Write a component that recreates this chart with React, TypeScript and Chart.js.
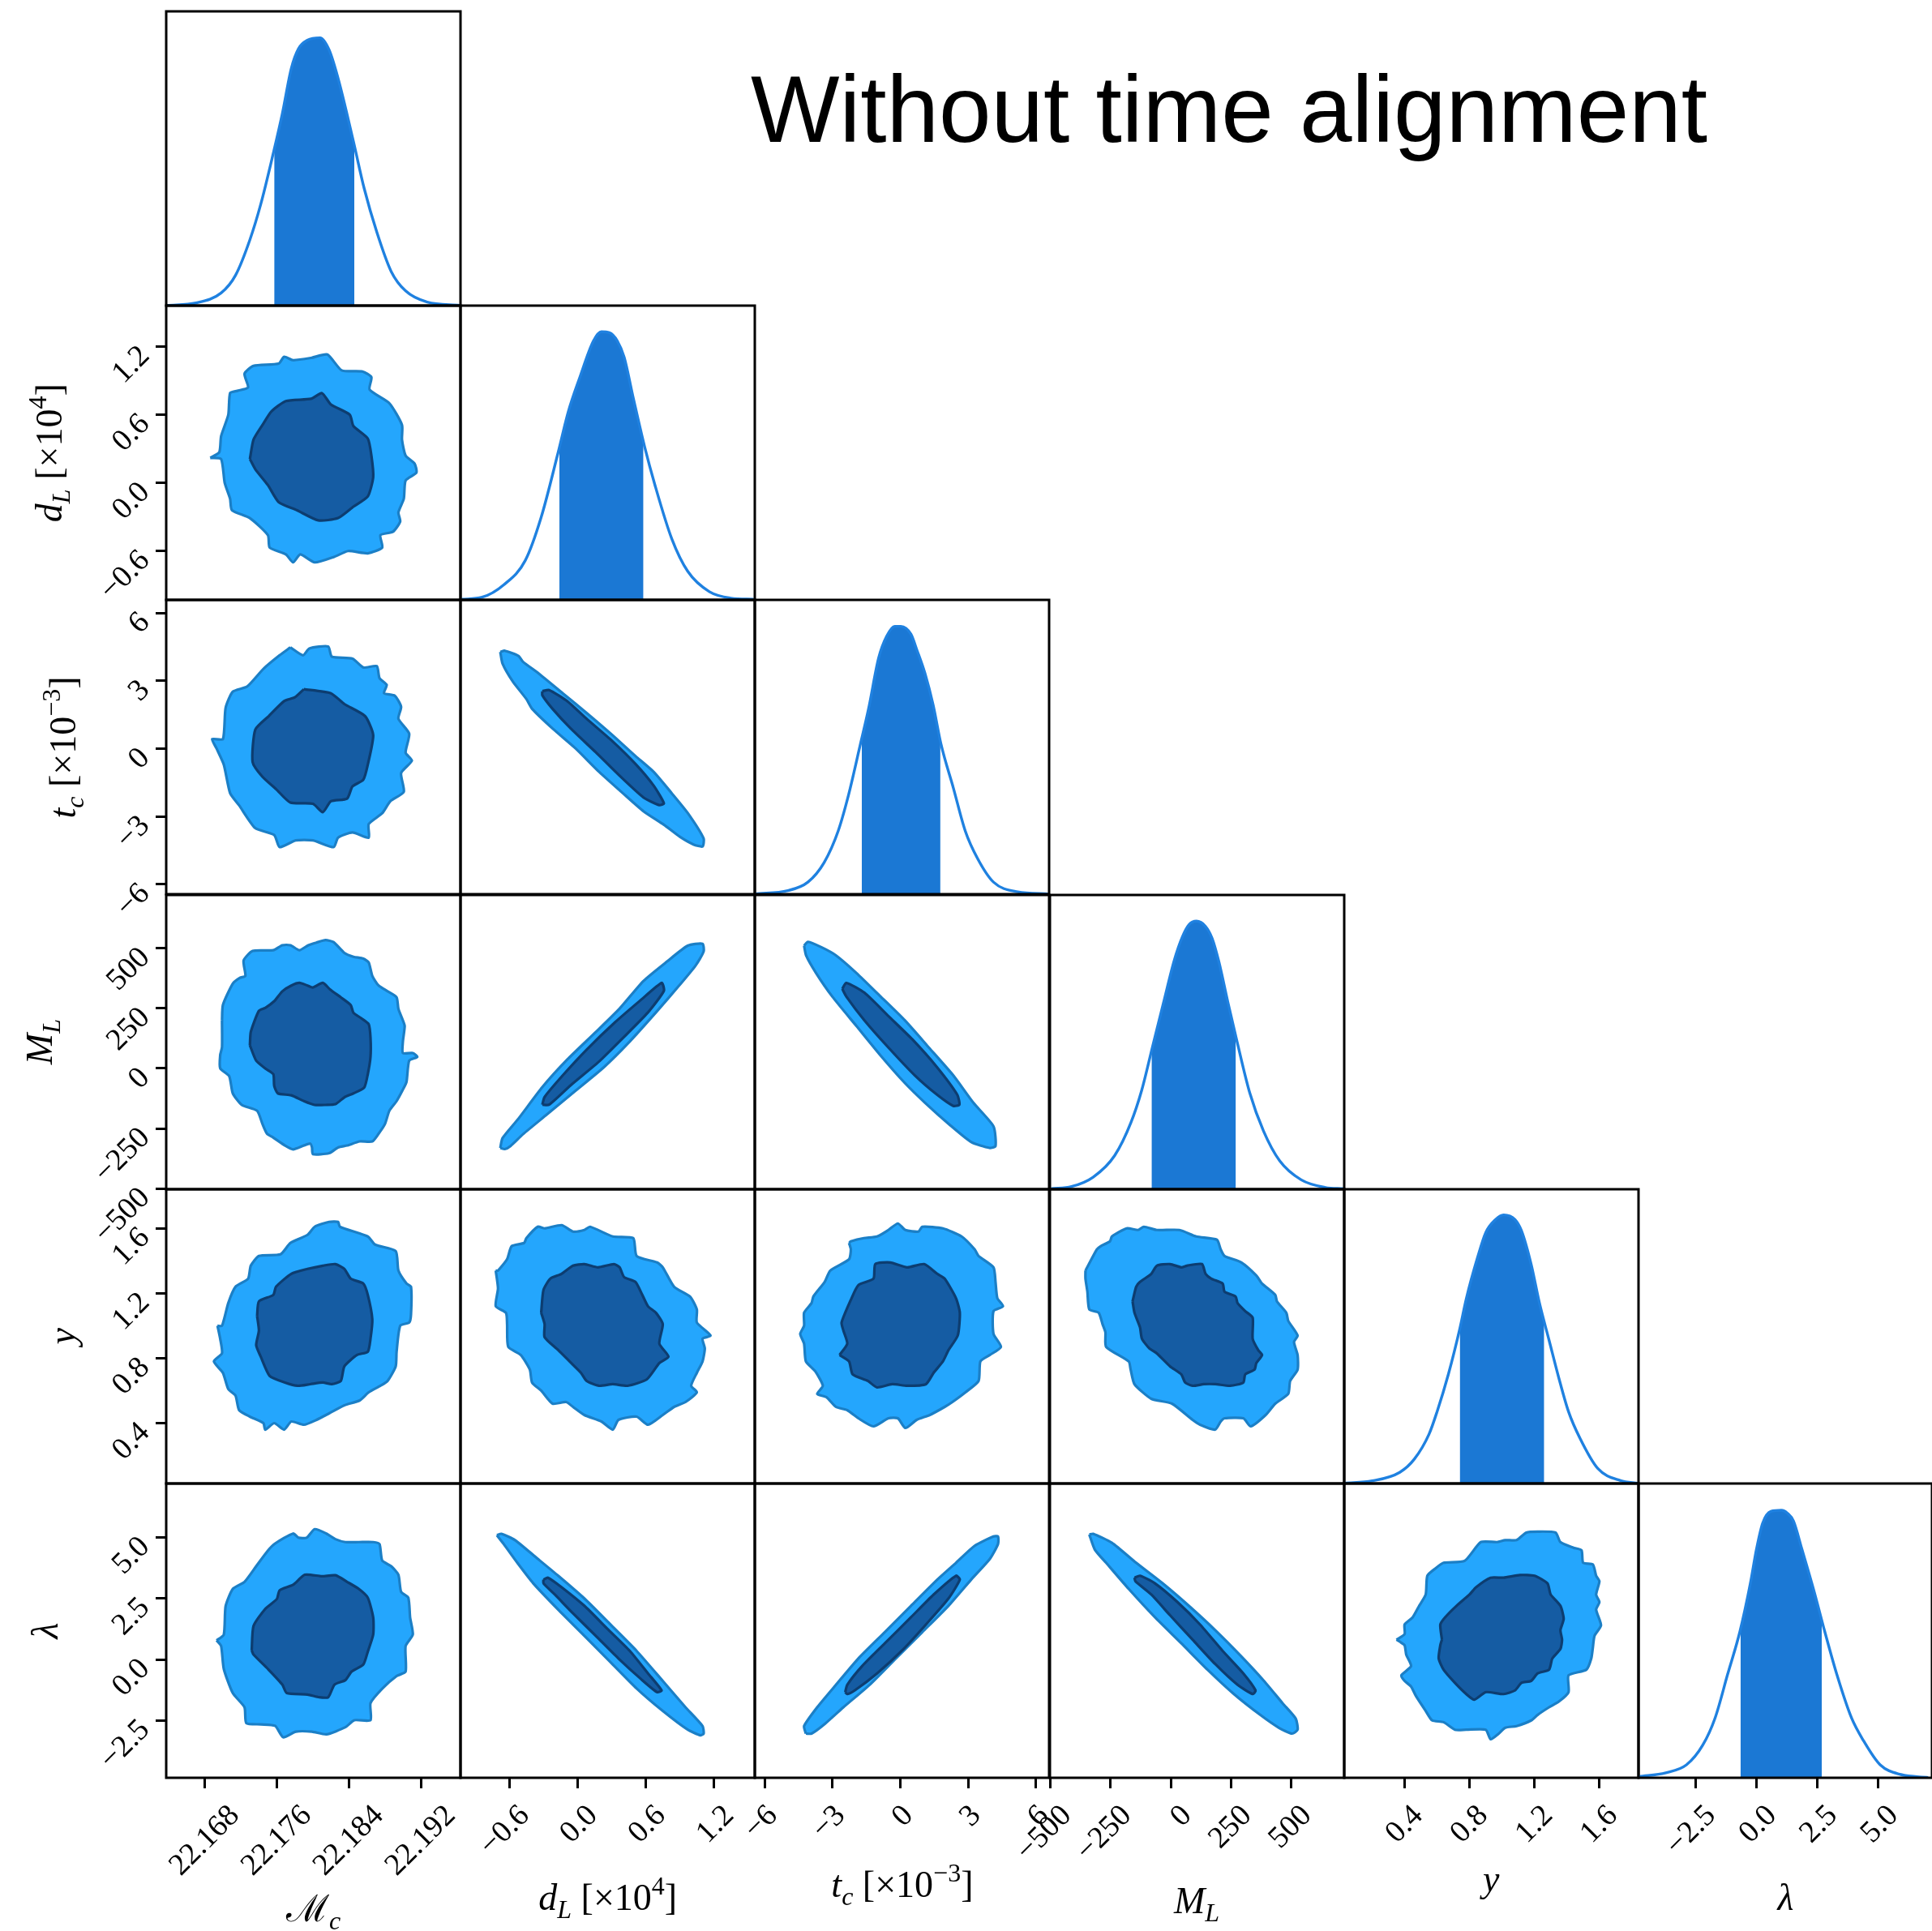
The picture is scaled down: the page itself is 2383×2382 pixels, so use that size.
import React, { useEffect, useRef } from 'react';
import { Chart, registerables } from 'chart.js';

Chart.register(...registerables);

type Pt = [number, number];

// ---------------- axes ----------------
const MC_RANGE: Pt = [22.1637, 22.1964];
const DL_RANGE: Pt = [-1.03, 1.56];
const TC_RANGE: Pt = [-6.44, 6.58];
const ML_RANGE: Pt = [-503, 722];
const Y_RANGE: Pt = [0.028, 1.841];
const LAM_RANGE: Pt = [-4.85, 7.21];

const MC_TICKS = [22.168, 22.176, 22.184, 22.192];
const MC_TICK_LABELS = ['22.168', '22.176', '22.184', '22.192'];
const DL_TICKS = [-0.6, 0, 0.6, 1.2];
const DL_TICK_LABELS = ['\u22120.6', '0.0', '0.6', '1.2'];
const TC_TICKS = [-6, -3, 0, 3, 6];
const TC_TICK_LABELS = ['\u22126', '\u22123', '0', '3', '6'];
const ML_TICKS = [-500, -250, 0, 250, 500];
const ML_TICK_LABELS = ['\u2212500', '\u2212250', '0', '250', '500'];
const Y_TICKS = [0.4, 0.8, 1.2, 1.6];
const Y_TICK_LABELS = ['0.4', '0.8', '1.2', '1.6'];
const LAM_TICKS = [-2.5, 0, 2.5, 5];
const LAM_TICK_LABELS = ['\u22122.5', '0.0', '2.5', '5.0'];

const MAIN_TITLE = 'Without time alignment';

// ---------------- 1D marginals (relative density) ----------------
const MC_PDF: Pt[] = [[22.1638,0.001],[22.1670,0.009],[22.1698,0.043],[22.1714,0.103],[22.1730,0.224],[22.1742,0.344],[22.1756,0.518],[22.1766,0.652],[22.1776,0.806],[22.1784,0.873],[22.1794,0.902],[22.1808,0.910],[22.1818,0.869],[22.1828,0.772],[22.1845,0.558],[22.1857,0.398],[22.1871,0.25],[22.1887,0.116],[22.1903,0.05],[22.1927,0.012],[22.1963,0.001]];
const MC_BAND: Pt[] = [[22.1757,0.525],[22.1766,0.652],[22.1776,0.806],[22.1784,0.873],[22.1794,0.902],[22.1808,0.910],[22.1818,0.869],[22.1828,0.772],[22.1846,0.545]];

const DL_PDF: Pt[] = [[-1.02,0.002],[-0.84,0.009],[-0.65,0.051],[-0.46,0.134],[-0.32,0.281],[-0.17,0.502],[-0.08,0.641],[0.02,0.756],[0.14,0.88],[0.21,0.911],[0.28,0.908],[0.35,0.88],[0.41,0.825],[0.49,0.687],[0.59,0.521],[0.68,0.392],[0.83,0.207],[0.97,0.097],[1.16,0.028],[1.35,0.006],[1.55,0.002]];
const DL_BAND: Pt[] = [[-0.16,0.51],[-0.08,0.641],[0.02,0.756],[0.14,0.88],[0.21,0.911],[0.28,0.908],[0.35,0.88],[0.41,0.825],[0.49,0.687],[0.58,0.53]];

const TC_PDF: Pt[] = [[-6.40,0.001],[-4.98,0.012],[-4.09,0.041],[-3.37,0.108],[-2.75,0.215],[-2.30,0.335],[-1.77,0.509],[-1.41,0.629],[-0.96,0.803],[-0.61,0.876],[-0.25,0.91],[0.02,0.91],[0.47,0.883],[0.73,0.83],[1.09,0.75],[1.45,0.643],[1.80,0.509],[2.34,0.362],[2.87,0.215],[3.41,0.122],[4.12,0.041],[5.19,0.008],[6.53,0.001]];
const TC_BAND: Pt[] = [[-1.71,0.52],[-1.41,0.629],[-0.96,0.803],[-0.61,0.876],[-0.25,0.91],[0.02,0.91],[0.47,0.883],[0.73,0.83],[1.09,0.75],[1.45,0.643],[1.77,0.52]];

const ML_PDF: Pt[] = [[-497,0.002],[-413,0.009],[-323,0.041],[-233,0.115],[-166,0.226],[-121,0.336],[-76,0.484],[-31,0.631],[15,0.779],[48,0.857],[76,0.899],[107,0.911],[144,0.894],[172,0.853],[200,0.774],[239,0.631],[273,0.512],[329,0.327],[386,0.198],[453,0.097],[543,0.032],[644,0.006],[718,0.002]];
const ML_BAND: Pt[] = [[-80,0.47],[-76,0.484],[-31,0.631],[15,0.779],[48,0.857],[76,0.899],[107,0.911],[144,0.894],[172,0.853],[200,0.774],[239,0.631],[271,0.515]];

const Y_PDF: Pt[] = [[0.03,0.001],[0.20,0.009],[0.37,0.038],[0.46,0.083],[0.55,0.167],[0.60,0.244],[0.67,0.372],[0.74,0.526],[0.78,0.628],[0.85,0.769],[0.90,0.853],[0.96,0.897],[1.01,0.913],[1.08,0.897],[1.12,0.859],[1.18,0.744],[1.23,0.615],[1.29,0.487],[1.35,0.359],[1.41,0.244],[1.48,0.154],[1.59,0.051],[1.73,0.010],[1.84,0.001]];
const Y_BAND: Pt[] = [[0.74,0.526],[0.78,0.628],[0.85,0.769],[0.90,0.853],[0.96,0.897],[1.01,0.913],[1.08,0.897],[1.12,0.859],[1.18,0.744],[1.23,0.615],[1.26,0.55]];

const LAM_PDF: Pt[] = [[-4.82,0.004],[-3.73,0.017],[-2.88,0.044],[-2.21,0.111],[-1.70,0.204],[-1.19,0.351],[-0.68,0.498],[-0.26,0.658],[0.00,0.778],[0.25,0.865],[0.59,0.905],[1.02,0.909],[1.27,0.899],[1.52,0.872],[1.86,0.778],[2.37,0.632],[2.80,0.498],[3.30,0.351],[3.90,0.204],[4.41,0.124],[5.08,0.044],[5.93,0.011],[7.05,0.001]];
const LAM_BAND: Pt[] = [[-0.66,0.50],[-0.26,0.658],[0.00,0.778],[0.25,0.865],[0.59,0.905],[1.02,0.909],[1.27,0.899],[1.52,0.872],[1.86,0.778],[2.37,0.632],[2.68,0.536]];

// ---------------- 2D credible contours (outer / inner) ----------------
const MC_DL_OUT: Pt[] = [[22.1686,0.22],[22.1696,0.27],[22.1698,0.41],[22.1706,0.60],[22.1708,0.79],[22.1716,0.81],[22.1728,0.84],[22.1724,0.96],[22.1734,1.03],[22.1762,1.05],[22.1768,1.11],[22.1778,1.08],[22.1798,1.10],[22.1816,1.13],[22.1832,0.99],[22.1855,0.98],[22.1865,0.93],[22.1863,0.82],[22.1885,0.70],[22.1899,0.51],[22.1899,0.38],[22.1903,0.24],[22.1913,0.17],[22.1915,0.09],[22.1903,0.02],[22.1901,-0.14],[22.1895,-0.26],[22.1897,-0.34],[22.1889,-0.43],[22.1875,-0.46],[22.1877,-0.57],[22.1861,-0.62],[22.1839,-0.60],[22.1824,-0.65],[22.1802,-0.70],[22.1786,-0.63],[22.1778,-0.70],[22.1770,-0.63],[22.1752,-0.57],[22.1750,-0.46],[22.1730,-0.31],[22.1710,-0.24],[22.1708,-0.14],[22.1702,0.00],[22.1698,0.21]];
const MC_DL_IN: Pt[] = [[22.1730,0.21],[22.1734,0.38],[22.1744,0.51],[22.1754,0.63],[22.1770,0.72],[22.1798,0.74],[22.1810,0.79],[22.1820,0.69],[22.1841,0.60],[22.1845,0.50],[22.1861,0.39],[22.1865,0.24],[22.1867,0.05],[22.1861,-0.12],[22.1845,-0.21],[22.1828,-0.31],[22.1806,-0.33],[22.1782,-0.24],[22.1762,-0.17],[22.1750,-0.02],[22.1736,0.12]];

const MC_TC_OUT: Pt[] = [[22.1775,4.48],[22.1789,4.13],[22.1796,4.43],[22.1817,4.52],[22.1821,4.07],[22.1844,3.98],[22.1856,3.59],[22.1871,3.65],[22.1874,3.12],[22.1882,2.82],[22.1879,2.45],[22.1891,2.34],[22.1898,1.85],[22.1895,1.32],[22.1907,0.66],[22.1903,-0.18],[22.1910,-0.53],[22.1898,-1.08],[22.1901,-1.91],[22.1886,-2.33],[22.1877,-2.86],[22.1862,-3.34],[22.1862,-3.94],[22.1844,-3.71],[22.1828,-3.94],[22.1823,-4.36],[22.1800,-4.06],[22.1781,-4.06],[22.1763,-4.36],[22.1757,-3.82],[22.1736,-3.52],[22.1718,-2.51],[22.1708,-1.97],[22.1701,-0.71],[22.1693,0.00],[22.1688,0.42],[22.1700,0.42],[22.1703,1.80],[22.1711,2.52],[22.1727,2.75],[22.1745,3.53],[22.1763,4.13]];
const MC_TC_IN: Pt[] = [[22.1790,2.63],[22.1820,2.45],[22.1835,1.97],[22.1858,1.44],[22.1867,0.60],[22.1861,-0.71],[22.1856,-1.38],[22.1844,-1.67],[22.1838,-2.21],[22.1820,-2.33],[22.1811,-2.81],[22.1800,-2.44],[22.1775,-2.39],[22.1759,-1.79],[22.1744,-1.25],[22.1733,-0.59],[22.1736,0.84],[22.1751,1.44],[22.1768,2.10],[22.1780,2.27]];

const DL_TC_OUT: Pt[] = [[-0.68,4.28],[-0.64,4.33],[-0.52,4.10],[-0.48,3.84],[-0.34,3.32],[-0.13,2.45],[0.08,1.58],[0.30,0.63],[0.51,-0.33],[0.67,-1.03],[0.83,-1.98],[0.97,-2.85],[1.11,-3.98],[1.10,-4.33],[1.02,-4.24],[0.90,-3.90],[0.76,-3.37],[0.58,-2.77],[0.40,-1.98],[0.19,-1.03],[-0.02,0.02],[-0.22,0.89],[-0.40,1.76],[-0.45,2.19],[-0.57,2.97],[-0.66,3.76]];
const DL_TC_IN: Pt[] = [[-0.31,2.54],[-0.25,2.59],[-0.09,2.10],[0.08,1.32],[0.30,0.36],[0.51,-0.68],[0.67,-1.64],[0.76,-2.42],[0.72,-2.50],[0.58,-2.16],[0.37,-1.20],[0.16,-0.16],[-0.06,0.89],[-0.22,1.76],[-0.31,2.36]];

const MC_ML_OUT: Pt[] = [[22.1699,200],[22.1700,264],[22.1711,353],[22.1719,377],[22.1725,385],[22.1723,449],[22.1733,489],[22.1756,492],[22.1766,513],[22.1775,513],[22.1785,492],[22.1795,513],[22.1804,524],[22.1814,534],[22.1823,526],[22.1835,481],[22.1845,465],[22.1856,457],[22.1862,441],[22.1866,385],[22.1873,345],[22.1883,321],[22.1893,296],[22.1895,248],[22.1900,200],[22.1902,176],[22.1900,112],[22.1900,64],[22.1911,64],[22.1916,48],[22.1907,32],[22.1904,-56],[22.1900,-88],[22.1893,-136],[22.1885,-176],[22.1880,-232],[22.1873,-272],[22.1866,-304],[22.1852,-304],[22.1838,-321],[22.1828,-329],[22.1818,-353],[22.1800,-357],[22.1799,-329],[22.1797,-313],[22.1790,-321],[22.1778,-337],[22.1769,-321],[22.1756,-288],[22.1749,-272],[22.1744,-232],[22.1738,-176],[22.1721,-152],[22.1711,-104],[22.1707,-32],[22.1697,0],[22.1697,56],[22.1699,88]];
const MC_ML_IN: Pt[] = [[22.1730,96],[22.1731,152],[22.1740,240],[22.1747,252],[22.1757,280],[22.1766,321],[22.1776,345],[22.1785,356],[22.1794,345],[22.1800,337],[22.1811,356],[22.1819,329],[22.1831,296],[22.1842,264],[22.1845,232],[22.1854,208],[22.1862,184],[22.1864,128],[22.1864,48],[22.1861,-24],[22.1857,-80],[22.1845,-104],[22.1835,-120],[22.1825,-149],[22.1814,-152],[22.1802,-152],[22.1790,-136],[22.1776,-112],[22.1761,-104],[22.1757,-72],[22.1756,-24],[22.1747,0],[22.1737,32]];

const DL_ML_OUT: Pt[] = [[-0.68,-331],[-0.66,-290],[-0.52,-209],[-0.31,-78],[-0.09,37],[0.16,151],[0.37,249],[0.58,364],[0.79,446],[0.97,511],[1.10,519],[1.11,487],[1.04,429],[0.90,348],[0.69,233],[0.44,102],[0.23,4],[-0.02,-94],[-0.27,-192],[-0.48,-274],[-0.59,-323],[-0.64,-336]];
const DL_ML_IN: Pt[] = [[-0.31,-151],[-0.29,-119],[-0.13,-29],[0.08,78],[0.33,192],[0.55,282],[0.74,356],[0.76,323],[0.62,233],[0.40,127],[0.19,29],[-0.06,-70],[-0.25,-151]];

const TC_ML_OUT: Pt[] = [[-4.26,511],[-4.09,527],[-3.46,503],[-2.84,470],[-1.94,397],[-0.87,299],[0.20,200],[1.27,86],[2.34,-29],[3.23,-143],[4.12,-241],[4.21,-323],[3.94,-331],[3.14,-307],[2.16,-233],[1.09,-143],[0.20,-61],[-0.87,53],[-1.94,176],[-3.01,299],[-3.73,397],[-4.17,470]];
const TC_ML_IN: Pt[] = [[-2.57,331],[-2.39,356],[-1.59,315],[-0.52,217],[0.55,119],[1.63,4],[2.52,-110],[2.61,-151],[2.34,-156],[1.63,-110],[0.64,-29],[-0.52,86],[-1.59,200],[-2.39,299]];

const MC_Y_OUT: Pt[] = [[22.1694,1.00],[22.1699,1.00],[22.1706,1.14],[22.1714,1.24],[22.1728,1.29],[22.1731,1.37],[22.1740,1.43],[22.1764,1.44],[22.1775,1.51],[22.1794,1.56],[22.1802,1.61],[22.1818,1.64],[22.1828,1.64],[22.1830,1.61],[22.1861,1.55],[22.1869,1.50],[22.1892,1.46],[22.1895,1.34],[22.1904,1.26],[22.1909,1.24],[22.1909,1.07],[22.1907,1.02],[22.1897,1.00],[22.1893,0.84],[22.1892,0.75],[22.1883,0.66],[22.1875,0.63],[22.1862,0.59],[22.1852,0.54],[22.1835,0.51],[22.1818,0.46],[22.1804,0.42],[22.1790,0.39],[22.1776,0.41],[22.1768,0.36],[22.1757,0.40],[22.1747,0.36],[22.1745,0.40],[22.1730,0.44],[22.1718,0.48],[22.1714,0.57],[22.1706,0.61],[22.1700,0.71],[22.1690,0.78],[22.1699,0.83],[22.1697,0.92]];
const MC_Y_IN: Pt[] = [[22.1738,1.06],[22.1740,1.15],[22.1756,1.19],[22.1759,1.24],[22.1776,1.32],[22.1794,1.35],[22.1811,1.37],[22.1825,1.38],[22.1835,1.35],[22.1842,1.29],[22.1856,1.26],[22.1861,1.19],[22.1866,1.04],[22.1864,0.92],[22.1861,0.84],[22.1849,0.82],[22.1835,0.75],[22.1831,0.66],[22.1821,0.64],[22.1811,0.65],[22.1797,0.64],[22.1783,0.63],[22.1769,0.65],[22.1752,0.69],[22.1742,0.81],[22.1737,0.88],[22.1740,0.97]];

const DL_Y_OUT: Pt[] = [[-0.72,1.34],[-0.70,1.23],[-0.72,1.12],[-0.63,1.08],[-0.62,1.01],[-0.61,0.87],[-0.50,0.82],[-0.42,0.73],[-0.40,0.65],[-0.32,0.60],[-0.22,0.52],[-0.10,0.53],[-0.04,0.50],[0.06,0.45],[0.21,0.41],[0.31,0.36],[0.36,0.42],[0.52,0.44],[0.62,0.39],[0.75,0.45],[0.85,0.50],[0.95,0.53],[1.05,0.59],[1.00,0.63],[1.05,0.71],[1.10,0.78],[1.12,0.86],[1.10,0.92],[1.17,0.94],[1.05,1.02],[1.05,1.10],[0.99,1.18],[0.85,1.24],[0.75,1.36],[0.70,1.39],[0.52,1.43],[0.49,1.54],[0.31,1.55],[0.11,1.61],[0.06,1.59],[-0.04,1.58],[-0.14,1.62],[-0.29,1.60],[-0.35,1.61],[-0.45,1.54],[-0.47,1.51],[-0.58,1.49],[-0.62,1.41],[-0.70,1.34]];
const DL_Y_IN: Pt[] = [[-0.32,1.08],[-0.30,1.22],[-0.24,1.29],[-0.14,1.32],[-0.04,1.37],[0.06,1.38],[0.18,1.36],[0.32,1.38],[0.37,1.36],[0.41,1.30],[0.51,1.27],[0.57,1.19],[0.62,1.12],[0.69,1.08],[0.75,1.01],[0.72,0.89],[0.80,0.81],[0.72,0.77],[0.61,0.67],[0.44,0.63],[0.31,0.64],[0.19,0.63],[0.08,0.66],[0.03,0.71],[-0.07,0.78],[-0.17,0.85],[-0.29,0.93],[-0.29,1.01]];

const TC_Y_OUT: Pt[] = [[-2.27,1.51],[-2.19,1.47],[-2.27,1.41],[-3.10,1.34],[-3.35,1.27],[-3.85,1.18],[-3.93,1.14],[-4.26,1.08],[-4.26,1.00],[-4.43,0.95],[-4.26,0.89],[-4.18,0.78],[-3.77,0.72],[-3.43,0.63],[-3.68,0.58],[-3.27,0.56],[-2.85,0.50],[-2.35,0.48],[-1.86,0.43],[-1.19,0.38],[-0.53,0.43],[-0.11,0.43],[0.22,0.37],[0.72,0.42],[1.30,0.45],[1.96,0.50],[2.30,0.53],[2.88,0.59],[3.46,0.66],[3.54,0.78],[3.96,0.82],[4.45,0.87],[4.12,0.95],[4.12,1.09],[4.54,1.12],[4.29,1.17],[4.21,1.27],[4.12,1.36],[3.46,1.43],[3.29,1.47],[2.71,1.55],[1.88,1.60],[0.97,1.61],[0.80,1.58],[0.22,1.59],[-0.11,1.63],[-0.53,1.59],[-1.03,1.55],[-1.61,1.54],[-2.19,1.52]];
const TC_Y_IN: Pt[] = [[-2.69,0.82],[-2.35,0.89],[-2.52,0.97],[-2.60,1.02],[-2.19,1.16],[-1.86,1.25],[-1.19,1.29],[-1.11,1.38],[-0.45,1.39],[0.30,1.36],[1.05,1.38],[1.63,1.32],[1.96,1.29],[2.46,1.17],[2.63,1.08],[2.54,0.94],[2.13,0.85],[1.88,0.78],[1.47,0.71],[1.13,0.64],[0.30,0.63],[-0.36,0.64],[-1.03,0.62],[-1.44,0.66],[-2.11,0.70],[-2.27,0.78]];

const ML_Y_OUT: Pt[] = [[-355,1.34],[-308,1.47],[-292,1.49],[-253,1.52],[-245,1.55],[-183,1.60],[-136,1.59],[-112,1.61],[-58,1.59],[36,1.59],[106,1.55],[192,1.53],[208,1.47],[224,1.43],[294,1.39],[356,1.31],[380,1.26],[435,1.19],[442,1.15],[481,1.08],[489,1.03],[528,0.94],[513,0.90],[528,0.82],[528,0.73],[497,0.66],[489,0.58],[435,0.52],[395,0.45],[333,0.38],[302,0.43],[224,0.43],[208,0.41],[185,0.36],[122,0.39],[91,0.42],[5,0.52],[-81,0.55],[-151,0.64],[-167,0.73],[-175,0.78],[-269,0.87],[-272,0.96],[-284,1.01],[-300,1.08],[-339,1.10],[-347,1.21],[-355,1.29]];
const ML_Y_IN: Pt[] = [[-159,1.15],[-144,1.24],[-128,1.27],[-81,1.32],[-58,1.37],[-3,1.38],[44,1.36],[67,1.37],[130,1.38],[145,1.32],[169,1.29],[216,1.26],[224,1.21],[270,1.18],[278,1.14],[310,1.09],[341,1.05],[341,0.92],[364,0.85],[380,0.82],[356,0.77],[349,0.73],[310,0.70],[302,0.65],[247,0.63],[185,0.64],[138,0.64],[91,0.63],[60,0.65],[44,0.70],[-3,0.75],[-58,0.83],[-89,0.86],[-120,0.92],[-128,0.99],[-151,1.08]];

const MC_LAM_OUT: Pt[] = [[22.1693,0.78],[22.1701,1.02],[22.1703,2.18],[22.1711,2.89],[22.1724,3.18],[22.1737,3.82],[22.1750,4.46],[22.1758,4.75],[22.1778,5.16],[22.1784,4.99],[22.1793,4.99],[22.1802,5.34],[22.1815,5.16],[22.1825,4.93],[22.1836,4.81],[22.1851,4.81],[22.1867,4.81],[22.1874,4.73],[22.1877,4.05],[22.1887,3.82],[22.1895,3.47],[22.1898,2.77],[22.1906,2.53],[22.1908,1.72],[22.1911,1.02],[22.1903,0.55],[22.1903,-0.50],[22.1893,-0.68],[22.1877,-1.20],[22.1864,-1.79],[22.1864,-2.49],[22.1846,-2.49],[22.1836,-2.78],[22.1815,-3.07],[22.1799,-2.96],[22.1781,-2.96],[22.1767,-3.19],[22.1758,-2.72],[22.1742,-2.66],[22.1726,-2.61],[22.1724,-1.96],[22.1711,-1.38],[22.1701,-0.39],[22.1698,0.55]];
const MC_LAM_IN: Pt[] = [[22.1732,0.37],[22.1734,1.37],[22.1747,2.07],[22.1760,2.48],[22.1763,2.83],[22.1778,3.06],[22.1791,3.47],[22.1810,3.41],[22.1825,3.45],[22.1838,3.18],[22.1851,2.89],[22.1861,2.53],[22.1867,1.72],[22.1867,1.02],[22.1861,0.32],[22.1856,-0.21],[22.1843,-0.50],[22.1836,-0.85],[22.1824,-1.03],[22.1817,-1.55],[22.1807,-1.55],[22.1794,-1.44],[22.1771,-1.38],[22.1766,-1.03],[22.1750,-0.39],[22.1734,0.20]];

const DL_LAM_OUT: Pt[] = [[-0.71,5.09],[-0.67,5.15],[-0.55,4.89],[-0.37,4.20],[-0.17,3.43],[0.06,2.50],[0.29,1.43],[0.52,0.35],[0.75,-0.88],[0.95,-1.96],[1.10,-2.73],[1.11,-3.04],[1.08,-3.11],[0.97,-2.88],[0.75,-2.11],[0.52,-1.19],[0.29,-0.11],[0.06,0.97],[-0.17,2.04],[-0.39,3.12],[-0.53,3.96],[-0.65,4.73]];
const DL_LAM_IN: Pt[] = [[-0.30,3.27],[-0.26,3.35],[-0.14,2.96],[0.06,2.20],[0.26,1.27],[0.46,0.35],[0.62,-0.57],[0.74,-1.27],[0.70,-1.34],[0.56,-0.81],[0.36,0.04],[0.16,0.97],[-0.04,1.89],[-0.20,2.66],[-0.30,3.12]];

const TC_LAM_OUT: Pt[] = [[-4.18,-3.04],[-4.26,-2.73],[-3.68,-1.96],[-2.85,-1.04],[-1.86,0.04],[-0.69,1.12],[0.47,2.20],[1.63,3.27],[2.46,3.96],[3.29,4.66],[4.12,5.04],[4.32,5.04],[4.32,4.73],[3.96,4.12],[3.13,3.27],[2.13,2.20],[0.97,1.12],[-0.20,0.04],[-1.36,-1.04],[-2.52,-1.96],[-3.35,-2.65],[-3.93,-3.04]];
const TC_LAM_IN: Pt[] = [[-2.44,-1.34],[-2.35,-1.04],[-1.69,-0.27],[-0.69,0.66],[0.47,1.73],[1.47,2.66],[2.46,3.43],[2.63,3.27],[2.13,2.50],[1.13,1.43],[0.14,0.43],[-1.03,-0.57],[-2.02,-1.27],[-2.35,-1.42]];

const ML_LAM_OUT: Pt[] = [[-339,5.12],[-323,5.15],[-245,4.78],[-144,3.96],[-34,3.12],[75,2.20],[185,1.20],[294,0.12],[388,-0.88],[466,-1.80],[520,-2.42],[528,-2.88],[505,-3.04],[450,-2.80],[372,-2.27],[263,-1.42],[153,-0.42],[44,0.66],[-66,1.73],[-175,2.89],[-269,3.96],[-316,4.50]];
const ML_LAM_IN: Pt[] = [[-151,3.35],[-128,3.43],[-66,3.12],[28,2.35],[122,1.43],[216,0.35],[302,-0.57],[353,-1.27],[341,-1.42],[278,-1.04],[185,-0.19],[91,0.81],[-3,1.81],[-81,2.66],[-147,3.20]];

const Y_LAM_OUT: Pt[] = [[0.35,0.81],[0.40,1.04],[0.40,1.43],[0.45,1.73],[0.49,2.20],[0.53,2.66],[0.54,3.43],[0.59,3.73],[0.64,3.96],[0.77,4.04],[0.87,4.81],[0.97,4.81],[1.02,4.89],[1.09,4.89],[1.15,5.20],[1.22,5.24],[1.33,5.20],[1.36,4.81],[1.44,4.58],[1.49,4.47],[1.50,3.96],[1.56,3.89],[1.58,3.43],[1.60,3.20],[1.58,2.66],[1.60,2.35],[1.58,2.04],[1.61,1.40],[1.57,0.97],[1.56,0.50],[1.55,0.04],[1.52,-0.42],[1.41,-0.65],[1.41,-1.34],[1.35,-1.73],[1.29,-1.96],[1.22,-2.27],[1.18,-2.50],[1.09,-2.73],[1.02,-2.80],[0.98,-3.04],[0.93,-3.27],[0.90,-2.88],[0.78,-2.88],[0.71,-2.88],[0.64,-2.57],[0.57,-2.50],[0.53,-2.11],[0.47,-1.50],[0.44,-1.11],[0.40,-0.88],[0.38,-0.65],[0.44,-0.27],[0.41,0.20],[0.40,0.58],[0.37,0.73]];
const Y_LAM_IN: Pt[] = [[0.63,0.81],[0.62,1.43],[0.65,1.73],[0.72,2.20],[0.80,2.66],[0.84,2.96],[0.93,3.35],[1.01,3.35],[1.11,3.46],[1.20,3.43],[1.28,3.12],[1.30,2.66],[1.36,2.20],[1.38,1.66],[1.36,1.20],[1.37,0.81],[1.36,0.43],[1.31,0.04],[1.29,-0.42],[1.22,-0.57],[1.18,-0.88],[1.12,-0.96],[1.08,-1.27],[1.01,-1.42],[0.90,-1.34],[0.83,-1.65],[0.78,-1.42],[0.71,-0.96],[0.64,-0.42],[0.61,0.04],[0.62,0.58]];

// ---------------- assembly ----------------
const DIMS = [
  { range: MC_RANGE, ticks: MC_TICKS, labels: MC_TICK_LABELS, pdf: MC_PDF, band: MC_BAND },
  { range: DL_RANGE, ticks: DL_TICKS, labels: DL_TICK_LABELS, pdf: DL_PDF, band: DL_BAND },
  { range: TC_RANGE, ticks: TC_TICKS, labels: TC_TICK_LABELS, pdf: TC_PDF, band: TC_BAND },
  { range: ML_RANGE, ticks: ML_TICKS, labels: ML_TICK_LABELS, pdf: ML_PDF, band: ML_BAND },
  { range: Y_RANGE, ticks: Y_TICKS, labels: Y_TICK_LABELS, pdf: Y_PDF, band: Y_BAND },
  { range: LAM_RANGE, ticks: LAM_TICKS, labels: LAM_TICK_LABELS, pdf: LAM_PDF, band: LAM_BAND },
];

const PAIRS: Record<string, [Pt[], Pt[]]> = {
  '10': [MC_DL_OUT, MC_DL_IN],
  '20': [MC_TC_OUT, MC_TC_IN],
  '21': [DL_TC_OUT, DL_TC_IN],
  '30': [MC_ML_OUT, MC_ML_IN],
  '31': [DL_ML_OUT, DL_ML_IN],
  '32': [TC_ML_OUT, TC_ML_IN],
  '40': [MC_Y_OUT, MC_Y_IN],
  '41': [DL_Y_OUT, DL_Y_IN],
  '42': [TC_Y_OUT, TC_Y_IN],
  '43': [ML_Y_OUT, ML_Y_IN],
  '50': [MC_LAM_OUT, MC_LAM_IN],
  '51': [DL_LAM_OUT, DL_LAM_IN],
  '52': [TC_LAM_OUT, TC_LAM_IN],
  '53': [ML_LAM_OUT, ML_LAM_IN],
  '54': [Y_LAM_OUT, Y_LAM_IN],
};

type Seg = { t: string; it?: boolean; sub?: boolean; sup?: boolean };
const AXIS_TITLES: Seg[][] = [
  [{ t: '\u2133' }, { t: 'c', it: true, sub: true }],
  [{ t: 'd', it: true }, { t: 'L', it: true, sub: true }, { t: ' [\u00d710' }, { t: '4', sup: true }, { t: ']' }],
  [{ t: 't', it: true }, { t: 'c', it: true, sub: true }, { t: ' [\u00d710' }, { t: '\u22123', sup: true }, { t: ']' }],
  [{ t: 'M', it: true }, { t: 'L', it: true, sub: true }],
  [{ t: 'y', it: true }],
  [{ t: '\u03bb', it: true }],
];

// ---------------- layout / style ----------------
const PAGE_W = 2383;
const PAGE_H = 2382;
const GX0 = 205;
const GY0 = 14;
const STEP = 363.2;
const SIZE = 363;
const PAD = 80;
const X_LABEL_SHIFT = [37, 19, 10, 20, 17, 19];
const X_TITLE_BASE = [2370, 2356, 2340, 2360, 2333, 2356];
const Y_TITLE_BASE = [0, 76, 93, 64, 92, 71];

const OUT_FILL = '#24a6fd';
const OUT_EDGE = '#1b7fc6';
const IN_FILL = '#155ca3';
const IN_EDGE = '#0d3d70';
const BAND_FILL = '#1b78d4';
const PDF_LINE = '#1f81e0';

const SERIF = '"Liberation Serif", "DejaVu Serif", serif';
const SANS = '"Liberation Sans", Arial, sans-serif';

interface PanelGeom { r: number; c: number; L: number; T: number; cx0: number; cy0: number; cx1: number; cy1: number }
const PANELS: PanelGeom[] = [];
for (let r = 0; r < 6; r++) {
  for (let c = 0; c <= r; c++) {
    const L = Math.round(GX0 + c * STEP);
    const T = Math.round(GY0 + r * STEP);
    const showY = c === 0 && r > 0;
    const showX = r === 5;
    const cx0 = showY ? 0 : Math.max(0, L - (showX ? 170 : PAD));
    const cy0 = Math.max(0, T - PAD);
    const cx1 = Math.min(PAGE_W, L + SIZE + PAD);
    const cy1 = showX ? PAGE_H : Math.min(PAGE_H, T + SIZE + PAD);
    PANELS.push({ r, c, L, T, cx0, cy0, cx1, cy1 });
  }
}

const framePlugin = {
  id: 'panelFrame',
  afterDatasetsDraw(chart: any) {
    const { ctx, chartArea: a } = chart;
    ctx.save();
    ctx.strokeStyle = '#000';
    ctx.lineWidth = 3;
    ctx.strokeRect(a.left, a.top, a.right - a.left, a.bottom - a.top);
    ctx.restore();
  },
};

function drawRich(ctx: CanvasRenderingContext2D, segs: Seg[], ax: number, ay: number, size: number, rot: number) {
  ctx.save();
  ctx.translate(ax, ay);
  ctx.rotate(rot);
  const fontOf = (s: Seg) => `${s.it ? 'italic ' : ''}${s.sub || s.sup ? Math.round(size * 0.7) : size}px ${SERIF}`;
  let total = 0;
  const widths = segs.map((s) => {
    ctx.font = fontOf(s);
    const w = ctx.measureText(s.t).width;
    total += w;
    return w;
  });
  let x = -total / 2;
  ctx.fillStyle = '#000';
  ctx.textAlign = 'left';
  ctx.textBaseline = 'alphabetic';
  segs.forEach((s, i) => {
    ctx.font = fontOf(s);
    const dy = s.sub ? size * 0.22 : s.sup ? -size * 0.42 : 0;
    ctx.fillText(s.t, x, dy);
    x += widths[i];
  });
  ctx.restore();
}

const titlesPlugin = {
  id: 'cornerTitles',
  afterDraw(chart: any) {
    const ctx = chart.ctx as CanvasRenderingContext2D;
    ctx.save();
    ctx.fillStyle = '#000';
    ctx.font = `116px ${SANS}`;
    ctx.textAlign = 'center';
    ctx.textBaseline = 'alphabetic';
    ctx.fillText(MAIN_TITLE, 1516, 175);
    ctx.restore();
    AXIS_TITLES.forEach((segs, i) => {
      const cx = GX0 + i * STEP + SIZE / 2;
      drawRich(ctx, segs, cx, X_TITLE_BASE[i], 46, 0);
      if (i > 0) {
        const cy = GY0 + i * STEP + SIZE / 2;
        drawRich(ctx, segs, Y_TITLE_BASE[i], cy, 46, -Math.PI / 2);
      }
    });
  },
};

function overlayConfig(): any {
  return {
    type: 'scatter',
    data: { datasets: [] },
    options: {
      responsive: false,
      animation: false,
      devicePixelRatio: 1,
      events: [],
      scales: { x: { display: false }, y: { display: false } },
      plugins: { legend: { display: false }, tooltip: { enabled: false } },
    },
    plugins: [titlesPlugin],
  };
}

function buildConfig(p: PanelGeom): any {
  const { r, c, L, T, cx0, cy0, cx1, cy1 } = p;
  const R = L + SIZE;
  const B = T + SIZE;
  const showY = c === 0 && r > 0;
  const showX = r === 5;
  const xd = DIMS[c];
  const yd = DIMS[r];
  const diag = r === c;
  const xy = (a: Pt[]) => a.map(([x, y]) => ({ x, y }));
  const loop = (a: Pt[]) => xy(a.concat([a[0]]));
  let datasets: any[];
  if (diag) {
    datasets = [
      { data: xy(xd.pdf), borderColor: PDF_LINE, borderWidth: 3.4, fill: false, cubicInterpolationMode: 'monotone' },
      { data: xy(xd.band), borderColor: 'rgba(0,0,0,0)', borderWidth: 0, backgroundColor: BAND_FILL, fill: 'origin', cubicInterpolationMode: 'monotone' },
    ];
  } else {
    const [outer, inner] = PAIRS[`${r}${c}`];
    datasets = [
      { data: loop(inner), borderColor: IN_EDGE, backgroundColor: IN_FILL, borderWidth: 3.2, fill: 'shape', tension: 0.2 },
      { data: loop(outer), borderColor: OUT_EDGE, backgroundColor: OUT_FILL, borderWidth: 3.2, fill: 'shape', tension: 0.2 },
    ];
  }
  datasets.forEach((d) => Object.assign(d, { showLine: true, pointRadius: 0, pointHoverRadius: 0 }));

  const tickFont = { family: SERIF, size: 38 };
  const grid = { display: true, drawOnChartArea: false, drawTicks: true, tickLength: 13, lineWidth: 3, color: '#000' };

  const x: any = {
    type: 'linear',
    position: 'bottom',
    min: xd.range[0],
    max: xd.range[1],
    display: showX,
    afterBuildTicks: (s: any) => { s.ticks = xd.ticks.map((v) => ({ value: v })); },
    ticks: {
      autoSkip: false, minRotation: 45, maxRotation: 45, padding: 12, labelOffset: X_LABEL_SHIFT[c],
      color: '#000', font: tickFont, callback: (_v: any, i: number) => xd.labels[i],
    },
    grid,
    border: { display: false },
  };
  if (showX) x.afterFit = (s: any) => { s.height = cy1 - B; };

  let y: any;
  if (diag) {
    y = { type: 'linear', min: 0, max: 1, display: false };
  } else {
    y = {
      type: 'linear',
      position: 'left',
      min: yd.range[0],
      max: yd.range[1],
      display: showY,
      afterBuildTicks: (s: any) => { s.ticks = yd.ticks.map((v) => ({ value: v })); },
      ticks: {
        autoSkip: false, minRotation: 45, maxRotation: 45, padding: 13, labelOffset: 6,
        color: '#000', font: tickFont, callback: (_v: any, i: number) => yd.labels[i],
      },
      grid,
      border: { display: false },
    };
    if (showY) y.afterFit = (s: any) => { s.width = L - cx0; };
  }

  return {
    type: 'scatter',
    data: { datasets },
    options: {
      responsive: false,
      maintainAspectRatio: false,
      animation: false,
      devicePixelRatio: 1,
      events: [],
      layout: {
        autoPadding: false,
        padding: {
          left: showY ? 0 : L - cx0,
          right: Math.max(0, cx1 - R),
          top: T - cy0,
          bottom: showX ? 0 : cy1 - B,
        },
      },
      scales: { x, y },
      plugins: { legend: { display: false }, tooltip: { enabled: false }, title: { display: false } },
    },
    plugins: [framePlugin],
  };
}

export default function App() {
  const overlayRef = useRef<HTMLCanvasElement | null>(null);
  const refs = useRef<(HTMLCanvasElement | null)[]>([]);

  useEffect(() => {
    const charts: Chart[] = [];
    if (overlayRef.current) charts.push(new Chart(overlayRef.current, overlayConfig()));
    PANELS.forEach((p, i) => {
      const cv = refs.current[i];
      if (cv) charts.push(new Chart(cv, buildConfig(p)));
    });
    return () => { charts.forEach((ch) => ch.destroy()); };
  }, []);

  return (
    <div style={{ position: 'absolute', left: 0, top: 0, width: PAGE_W, height: PAGE_H, overflow: 'hidden', background: '#fff' }}>
      <canvas
        ref={overlayRef}
        width={PAGE_W}
        height={PAGE_H}
        style={{ position: 'absolute', left: 0, top: 0, width: PAGE_W, height: PAGE_H }}
      />
      {PANELS.map((p, i) => (
        <canvas
          key={i}
          ref={(el) => { refs.current[i] = el; }}
          width={p.cx1 - p.cx0}
          height={p.cy1 - p.cy0}
          style={{ position: 'absolute', left: p.cx0, top: p.cy0, width: p.cx1 - p.cx0, height: p.cy1 - p.cy0 }}
        />
      ))}
    </div>
  );
}
